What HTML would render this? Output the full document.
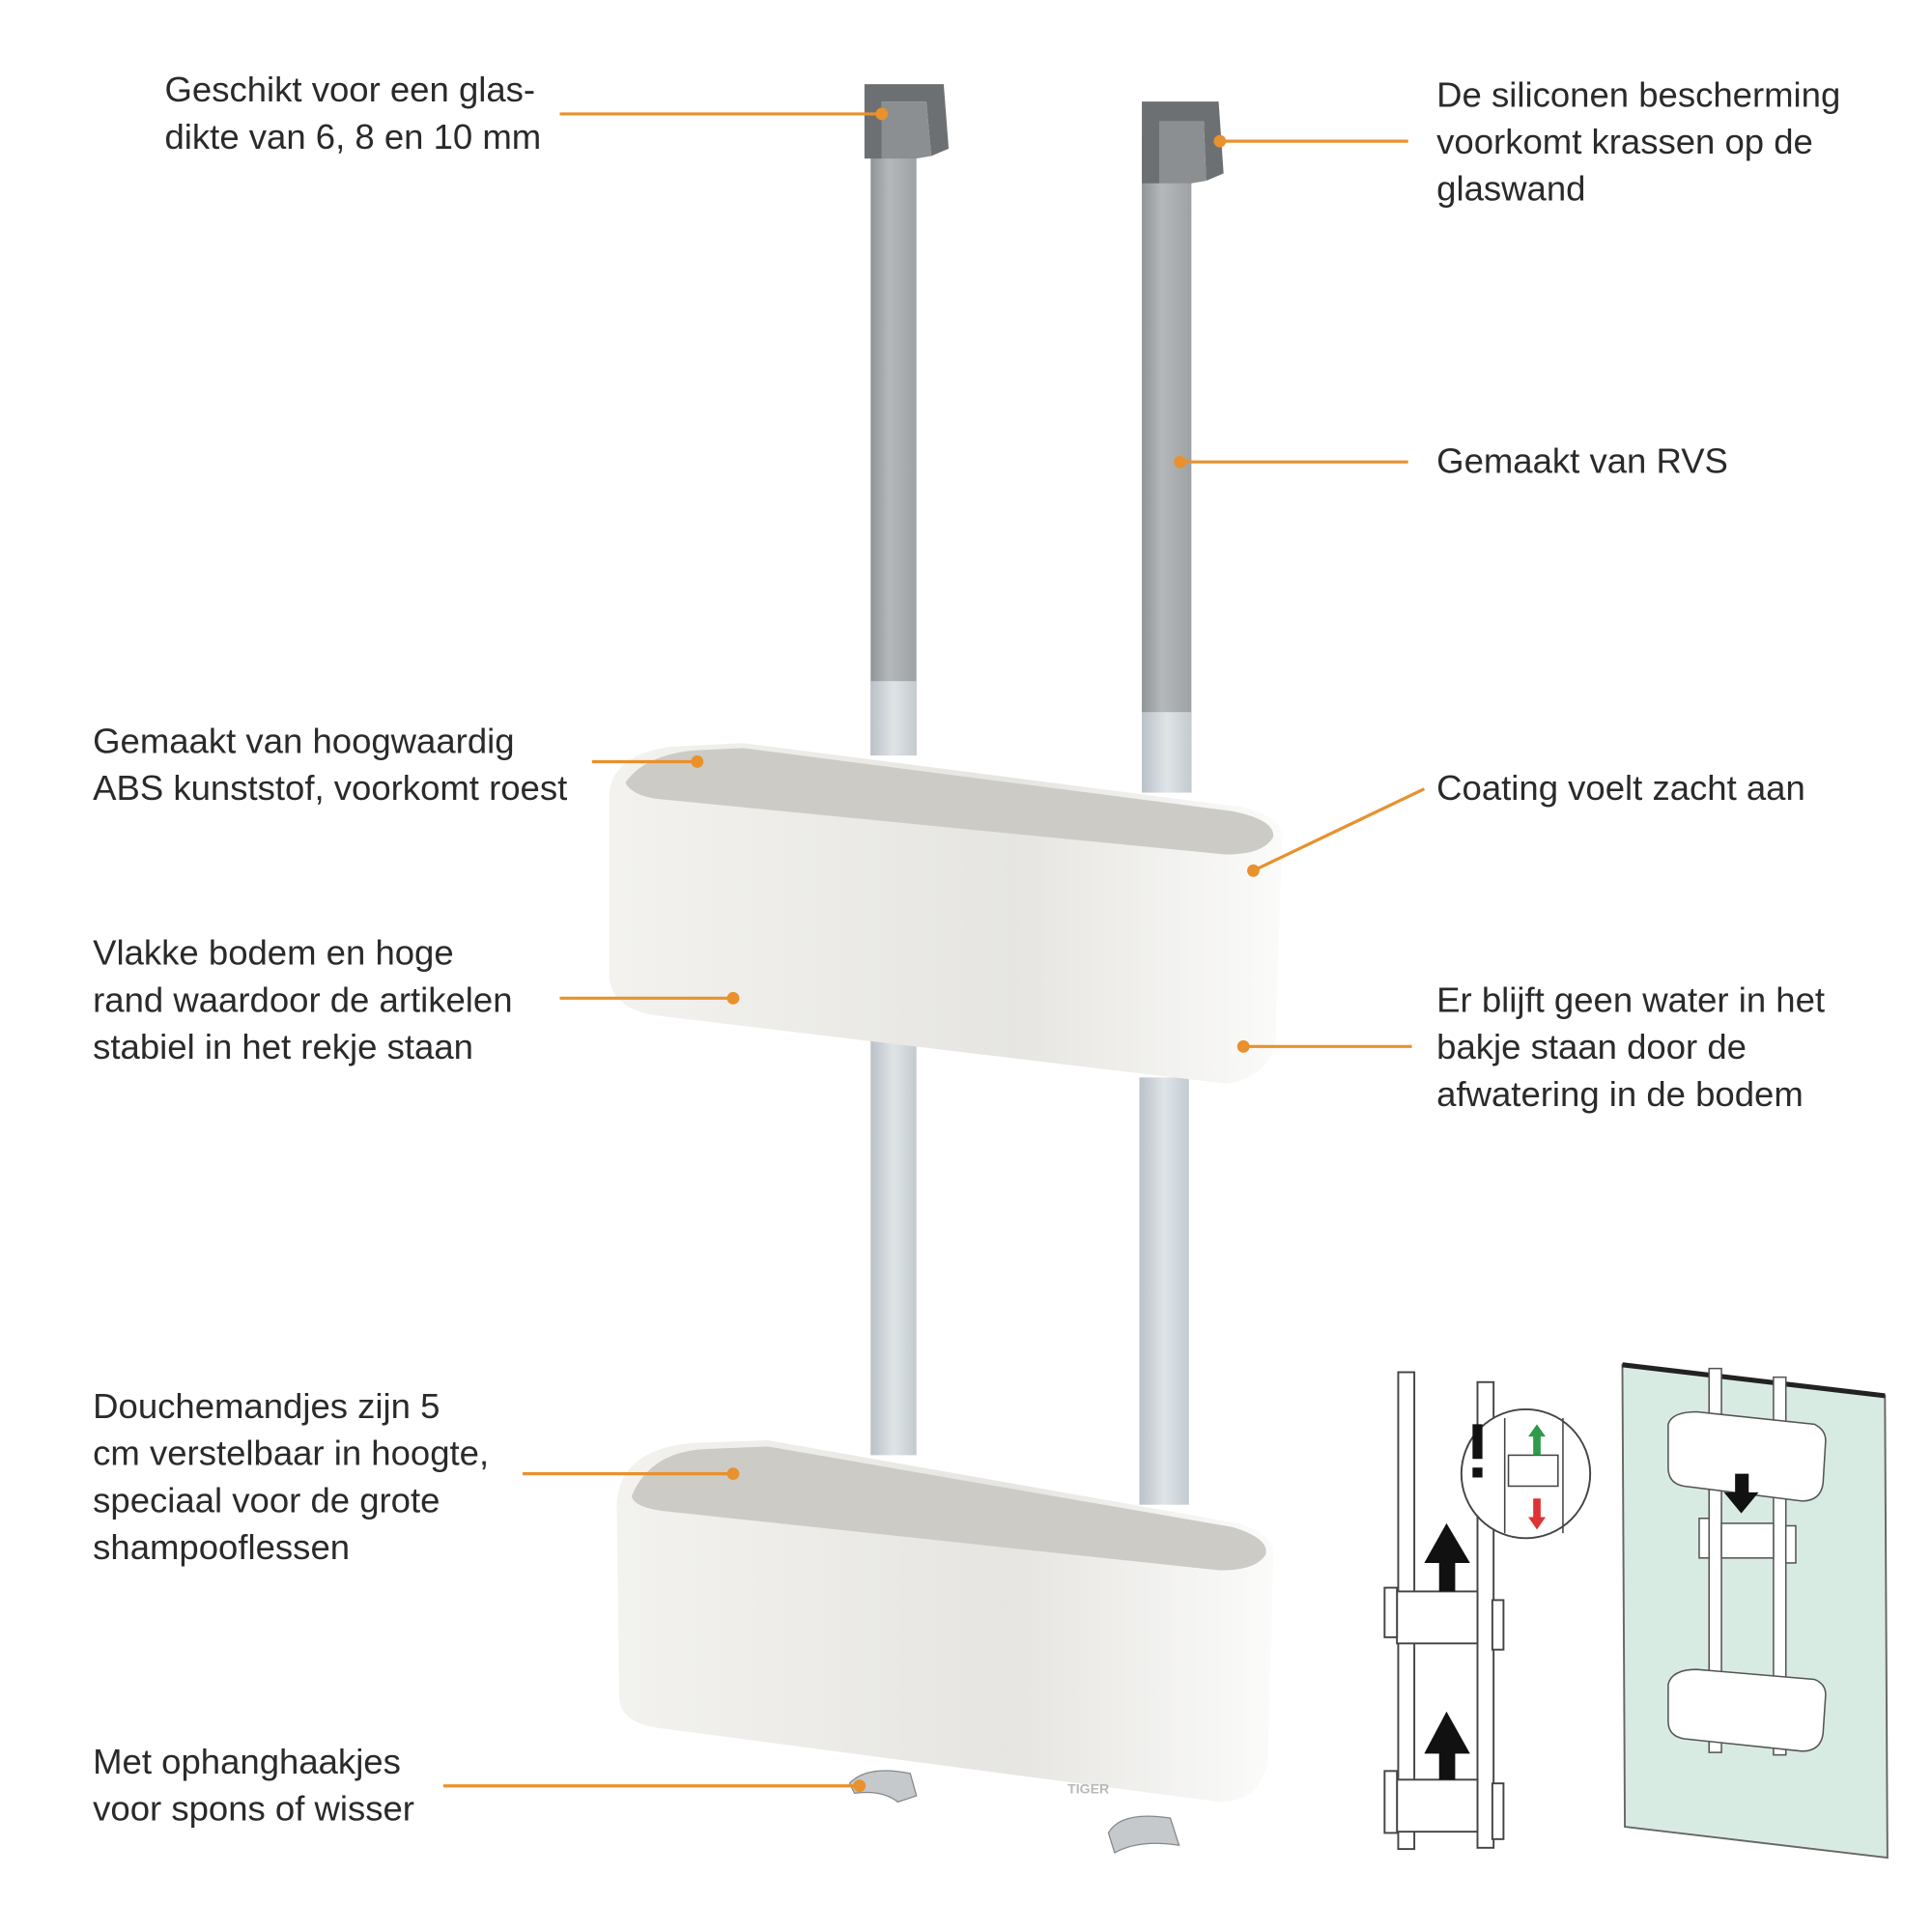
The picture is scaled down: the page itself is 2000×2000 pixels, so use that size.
<!DOCTYPE html>
<html><head><meta charset="utf-8"><style>
html,body{margin:0;padding:0;background:#fff;}
svg{display:block;}
text{font-family:"Liberation Sans",sans-serif;font-size:28.5px;fill:#2a2a2a;}
</style></head><body>
<svg width="2000" height="2000" viewBox="0 0 1560 1560" xmlns="http://www.w3.org/2000/svg">
<defs>
<linearGradient id="st" x1="0" x2="1"><stop offset="0" stop-color="#8f9496"/><stop offset="0.4" stop-color="#b4b8ba"/><stop offset="1" stop-color="#9ea2a4"/></linearGradient>
<linearGradient id="stl" x1="0" x2="1"><stop offset="0" stop-color="#b9c2c8"/><stop offset="0.5" stop-color="#dfe4e7"/><stop offset="1" stop-color="#c3cbd0"/></linearGradient>
<linearGradient id="face" x1="0" x2="1"><stop offset="0" stop-color="#f3f2ef"/><stop offset="0.6" stop-color="#e6e5e1"/><stop offset="1" stop-color="#fbfbfa"/></linearGradient>
</defs>
<rect x="703" y="90" width="37" height="520" fill="url(#st)"/>
<rect x="703" y="550" width="37" height="60" fill="url(#stl)"/>
<rect x="922" y="110" width="40" height="530" fill="url(#st)"/>
<rect x="922" y="575" width="40" height="65" fill="url(#stl)"/>
<path d="M698 68 L762 68 L766 120 L752 126 L748 82 L712 82 L712 128 L698 128 Z" fill="#6d7072"/>
<path d="M712 82 L748 82 L752 126 L740 128 L712 128Z" fill="#8b8f91"/>
<path d="M922 82 L984 82 L988 140 L974 146 L972 98 L936 98 L936 148 L922 148 Z" fill="#6d7072"/>
<path d="M936 98 L972 98 L974 146 L962 148 L936 148Z" fill="#8b8f91"/>
<rect x="703" y="840" width="37" height="335" fill="url(#stl)"/>
<rect x="920" y="870" width="40" height="345" fill="url(#stl)"/>
<path d="M492 640 Q495 610 540 603 L600 600 L1005 652 Q1040 662 1035 680 L1030 840 Q1025 870 990 875 L530 820 Q495 815 492 790 Z" fill="url(#face)"/>
<path d="M505 632 Q520 610 560 606 L600 604 L995 655 Q1030 662 1028 676 Q1020 690 990 690 L530 645 Q510 642 505 632Z" fill="#cdcbc6"/>
<path d="M498 1215 Q500 1170 560 1165 L620 1163 L1000 1230 Q1030 1240 1028 1255 L1024 1420 Q1018 1455 985 1455 L530 1395 Q500 1390 500 1370 Z" fill="url(#face)"/>
<path d="M510 1208 Q525 1172 570 1170 L620 1168 L995 1233 Q1025 1242 1022 1255 Q1015 1268 985 1268 L535 1220 Q512 1217 510 1208Z" fill="#cdcbc6"/>
<text x="862" y="1448" style="font-size:11px;fill:#b9b9b6;font-weight:bold">TIGER</text>
<path d="M686 1440 Q700 1425 735 1432 L740 1450 L725 1455 Q712 1445 690 1448Z" fill="#c5c9cc" stroke="#888" stroke-width="1"/>
<path d="M895 1480 Q905 1462 945 1468 L952 1490 Q920 1485 900 1496Z" fill="#c5c9cc" stroke="#888" stroke-width="1"/>
<g stroke="#e8912d" stroke-width="2.5" fill="none">
<line x1="452" y1="92" x2="712" y2="92"/>
<line x1="985" y1="114" x2="1137" y2="114"/>
<line x1="953" y1="373" x2="1137" y2="373"/>
<line x1="478" y1="615" x2="563" y2="615"/>
<line x1="1012" y1="703" x2="1150" y2="637"/>
<line x1="452" y1="806" x2="592" y2="806"/>
<line x1="1004" y1="845" x2="1140" y2="845"/>
<line x1="422" y1="1190" x2="592" y2="1190"/>
<line x1="358" y1="1442" x2="694" y2="1442"/>
</g>
<g fill="#e8912d">
<circle cx="712" cy="92" r="5"/><circle cx="985" cy="114" r="5"/><circle cx="953" cy="373" r="5"/>
<circle cx="563" cy="615" r="5"/><circle cx="1012" cy="703" r="5"/><circle cx="592" cy="806" r="5"/>
<circle cx="1004" cy="845" r="5"/><circle cx="592" cy="1190" r="5"/><circle cx="694" cy="1442" r="5"/>
</g>
<text x="133" y="82">Geschikt voor een glas-</text>
<text x="133" y="120">dikte van 6, 8 en 10 mm</text>
<text x="1160" y="86">De siliconen bescherming</text>
<text x="1160" y="124">voorkomt krassen op de</text>
<text x="1160" y="162">glaswand</text>
<text x="1160" y="382">Gemaakt van RVS</text>
<text x="75" y="608">Gemaakt van hoogwaardig</text>
<text x="75" y="646">ABS kunststof, voorkomt roest</text>
<text x="1160" y="646">Coating voelt zacht aan</text>
<text x="75" y="779">Vlakke bodem en hoge</text>
<text x="75" y="817">rand waardoor de artikelen</text>
<text x="75" y="855">stabiel in het rekje staan</text>
<text x="1160" y="817">Er blijft geen water in het</text>
<text x="1160" y="855">bakje staan door de</text>
<text x="1160" y="893">afwatering in de bodem</text>
<text x="75" y="1145">Douchemandjes zijn 5</text>
<text x="75" y="1183">cm verstelbaar in hoogte,</text>
<text x="75" y="1221">speciaal voor de grote</text>
<text x="75" y="1259">shampooflessen</text>
<text x="75" y="1432">Met ophanghaakjes</text>
<text x="75" y="1470">voor spons of wisser</text>
<g stroke="#444" stroke-width="1.5" fill="#fff">
<rect x="1129" y="1108" width="13" height="385"/>
<rect x="1193" y="1116" width="13" height="376"/>
<rect x="1128" y="1285" width="65" height="42"/>
<rect x="1118" y="1282" width="10" height="40"/>
<rect x="1205" y="1292" width="9" height="40"/>
<rect x="1128" y="1437" width="65" height="42"/>
<rect x="1118" y="1430" width="10" height="50"/>
<rect x="1205" y="1440" width="9" height="45"/>
<circle cx="1232" cy="1190" r="52"/>
</g>
<g fill="#111">
<path d="M1162 1285 L1162 1262 L1150 1262 L1168 1230 L1187 1262 L1175 1262 L1175 1285Z"/>
<path d="M1162 1437 L1162 1416 L1150 1416 L1168 1382 L1187 1416 L1175 1416 L1175 1437Z"/>
<rect x="1189" y="1150" width="8" height="28"/><rect x="1189" y="1185" width="8" height="8"/>
</g>
<g stroke="#444" stroke-width="1.2" fill="none">
<line x1="1215" y1="1145" x2="1215" y2="1238"/><line x1="1262" y1="1145" x2="1262" y2="1238"/>
<rect x="1218" y="1175" width="40" height="25"/>
</g>
<path d="M1238 1175 L1238 1160 L1234 1160 L1241 1150 L1248 1160 L1244 1160 L1244 1175Z" fill="#2e9a4a"/>
<path d="M1238 1210 L1238 1225 L1234 1225 L1241 1235 L1248 1225 L1244 1225 L1244 1210Z" fill="#d33"/>
<path d="M1310 1102 L1522 1127 L1524 1500 L1312 1475Z" fill="#d8ebe3" stroke="#666" stroke-width="1.5"/>
<line x1="1310" y1="1102" x2="1522" y2="1127" stroke="#222" stroke-width="4"/>
<g stroke="#555" stroke-width="1.2" fill="#fff">
<rect x="1380" y="1105" width="10" height="310"/>
<rect x="1432" y="1112" width="10" height="305"/>
<path d="M1347 1150 Q1350 1140 1370 1140 L1465 1150 Q1475 1155 1474 1165 L1472 1198 Q1470 1212 1455 1212 L1360 1200 Q1347 1198 1347 1185Z"/>
<path d="M1347 1360 Q1350 1348 1370 1348 L1465 1356 Q1475 1360 1474 1370 L1472 1400 Q1470 1414 1455 1414 L1360 1404 Q1347 1402 1347 1390Z"/>
<rect x="1390" y="1230" width="42" height="28"/>
<rect x="1372" y="1226" width="8" height="32"/><rect x="1442" y="1232" width="8" height="30"/>
</g>
<path d="M1401 1205 L1401 1190 L1412 1190 L1412 1205 L1420 1205 L1406 1222 L1392 1205Z" fill="#111"/>
</svg>
</body></html>
